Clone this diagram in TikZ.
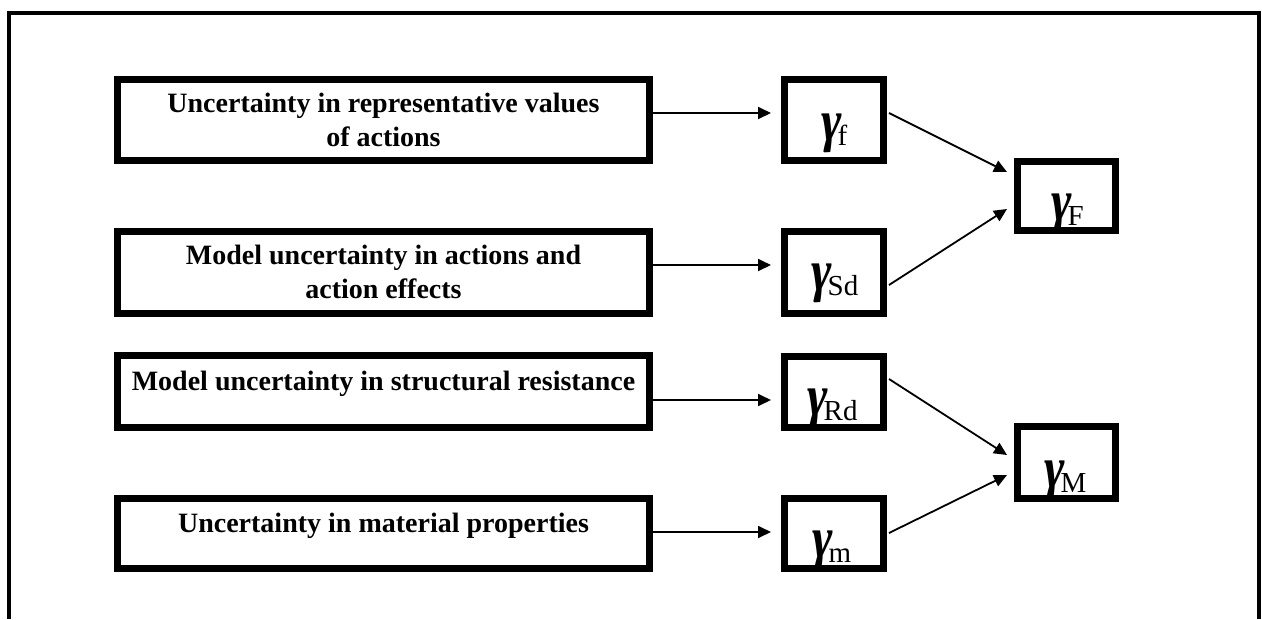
\documentclass[tikz,border=0pt]{standalone}
\usepackage{fontspec}
\setmainfont{Liberation Serif}
\usepackage{graphicx}
\usetikzlibrary{arrows.meta}
\newcommand{\gam}[1]{\raisebox{5pt}{\scalebox{0.85}[1]{\fontsize{58}{58}\selectfont\bfseries\itshape γ}}\kern-4pt{\fontsize{29}{29}\selectfont #1}}
\begin{document}
\begin{tikzpicture}[x=1pt,y=-1pt,
  boxa/.style={draw,line width=7pt,rectangle,inner sep=0pt,outer sep=0pt},
  txt/.style={font=\fontsize{28}{34}\selectfont\bfseries,align=center,inner sep=0pt,anchor=base},
  gtxt/.style={inner sep=0pt,anchor=base west},
  arr/.style={line width=1.8pt,-{Triangle[length=13pt,width=12pt]}}]
\useasboundingbox (0,0) rectangle (1262,619);
\draw[line width=4pt] (9,619) -- (9,13) -- (1259,13) -- (1259,619);
% left boxes
\node[boxa,minimum width=532pt,minimum height=81pt] (B1) at (383.5,120) {};
\node[boxa,minimum width=532pt,minimum height=82pt] (B2) at (383.5,272.5) {};
\node[boxa,minimum width=532pt,minimum height=72pt] (B3) at (383.5,391.5) {};
\node[boxa,minimum width=532pt,minimum height=70pt] (B4) at (383.5,533.5) {};
\node[txt] (t1) at (383.5,146) {Uncertainty in representative values\\of actions};
\node[txt] (t2) at (383.5,298) {Model uncertainty in actions and\\action effects};
\node[txt] (t3) at (383.5,390) {Model uncertainty in structural resistance};
\node[txt] (t4) at (383.5,532) {Uncertainty in material properties};
% gamma boxes
\node[boxa,minimum width=99pt,minimum height=81pt] (gf) at (834,120) {};
\node[boxa,minimum width=99pt,minimum height=82pt] (gSd) at (834,272.5) {};
\node[boxa,minimum width=99pt,minimum height=71pt] (gRd) at (834,392) {};
\node[boxa,minimum width=99pt,minimum height=70pt] (gm) at (834,533.5) {};
\node[boxa,minimum width=98pt,minimum height=69pt] (FF) at (1066.5,196) {};
\node[boxa,minimum width=98pt,minimum height=72pt] (MM) at (1066.5,462.5) {};
\node[gtxt] (lf) at (821,145) {\gam{f}};
\node[gtxt] (lSd) at (811,295) {\gam{Sd}};
\node[gtxt] (lRd) at (807,420) {\gam{Rd}};
\node[gtxt] (lm) at (812,562) {\gam{m}};
\node[gtxt] (lF) at (1051,225) {\gam{F}};
\node[gtxt] (lM) at (1044,492) {\gam{M}};
% arrows
\draw[arr] ([xshift=3.5pt,yshift=7pt]B1.east) -- ([xshift=-13.5pt,yshift=7pt]gf.west);
\draw[arr] ([xshift=3.5pt,yshift=7.5pt]B2.east) -- ([xshift=-13.5pt,yshift=7.5pt]gSd.west);
\draw[arr] ([xshift=3.5pt,yshift=-8.5pt]B3.east) -- ([xshift=-13.5pt,yshift=-8pt]gRd.west);
\draw[arr] ([xshift=3.5pt,yshift=1.5pt]B4.east) -- ([xshift=-13.5pt,yshift=1.5pt]gm.west);
\draw[arr] ([xshift=5.5pt,yshift=7pt]gf.east) -- ([xshift=-10.5pt,yshift=24pt]FF.west);
\draw[arr] ([xshift=5.5pt,yshift=-12.5pt]gSd.east) -- ([xshift=-10.5pt,yshift=-13pt]FF.west);
\draw[arr] ([xshift=5.5pt,yshift=13pt]gRd.east) -- ([xshift=-10.5pt,yshift=7.5pt]MM.west);
\draw[arr] ([xshift=5.5pt,yshift=0.5pt]gm.east) -- ([xshift=-10.5pt,yshift=-12.5pt]MM.west);
\end{tikzpicture}
\end{document}
